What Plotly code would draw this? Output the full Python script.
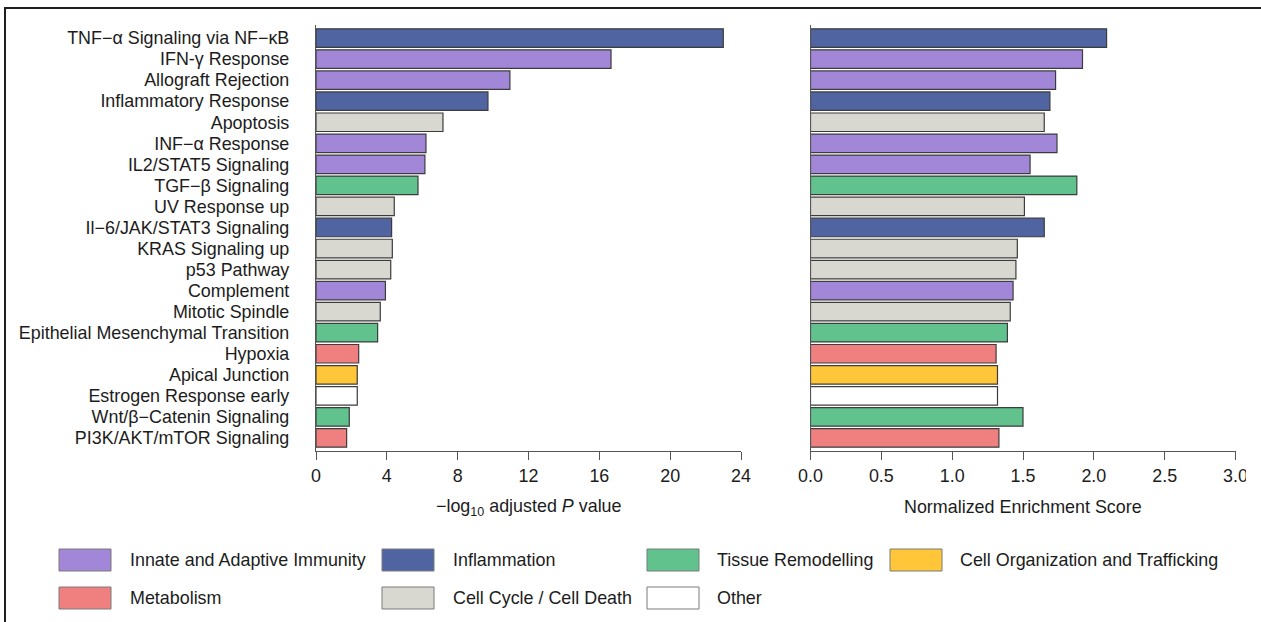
import plotly.graph_objects as go

# ---- data -------------------------------------------------------------
pathways = [
    "TNF−α Signaling via NF−κB",
    "IFN-γ Response",
    "Allograft Rejection",
    "Inflammatory Response",
    "Apoptosis",
    "INF−α Response",
    "IL2/STAT5 Signaling",
    "TGF−β Signaling",
    "UV Response up",
    "Il−6/JAK/STAT3 Signaling",
    "KRAS Signaling up",
    "p53 Pathway",
    "Complement",
    "Mitotic Spindle",
    "Epithelial Mesenchymal Transition",
    "Hypoxia",
    "Apical Junction",
    "Estrogen Response early",
    "Wnt/β−Catenin Signaling",
    "PI3K/AKT/mTOR Signaling",
]

neg_log10_padj = [23.0, 16.66, 10.95, 9.71, 7.17, 6.21, 6.15, 5.76, 4.42, 4.27,
                  4.31, 4.22, 3.92, 3.63, 3.48, 2.41, 2.33, 2.33, 1.88, 1.73]

nes = [2.09, 1.92, 1.73, 1.69, 1.65, 1.74, 1.55, 1.88, 1.51, 1.65,
       1.46, 1.45, 1.43, 1.41, 1.39, 1.31, 1.32, 1.32, 1.50, 1.33]

groups = [
    "Inflammation", "Innate and Adaptive Immunity", "Innate and Adaptive Immunity",
    "Inflammation", "Cell Cycle / Cell Death", "Innate and Adaptive Immunity",
    "Innate and Adaptive Immunity", "Tissue Remodelling", "Cell Cycle / Cell Death",
    "Inflammation", "Cell Cycle / Cell Death", "Cell Cycle / Cell Death",
    "Innate and Adaptive Immunity", "Cell Cycle / Cell Death", "Tissue Remodelling",
    "Metabolism", "Cell Organization and Trafficking", "Other",
    "Tissue Remodelling", "Metabolism",
]

left_ticks = [0, 4, 8, 12, 16, 20, 24]
right_ticks = [0.0, 0.5, 1.0, 1.5, 2.0, 2.5, 3.0]

legend_rows = [
    ["Innate and Adaptive Immunity", "Inflammation", "Tissue Remodelling",
     "Cell Organization and Trafficking"],
    ["Metabolism", "Cell Cycle / Cell Death", "Other"],
]

# ---- styling ----------------------------------------------------------
group_colors = {
    "Innate and Adaptive Immunity": "#A287D8",
    "Inflammation": "#4F64A0",
    "Tissue Remodelling": "#62C28E",
    "Cell Organization and Trafficking": "#FFC63A",
    "Metabolism": "#F08080",
    "Cell Cycle / Cell Death": "#D8D8D0",
    "Other": "#FFFFFF",
}

W, H = 1261, 622
FONT = "Liberation Sans, Arial, sans-serif"
TXT = "#1c1c1c"
AX = "#555555"
FS = 17.9


def px(x):
    return x / W


def py(y):
    return (H - y) / H


bar_colors = [group_colors[g] for g in groups]
n = len(pathways)
y_range = [n - 1 + 0.62, -0.62]

fig = go.Figure()

fig.add_trace(go.Bar(
    x=neg_log10_padj, y=pathways, orientation="h",
    marker=dict(color=bar_colors, line=dict(color="#3c3c3c", width=1.2)),
    xaxis="x", yaxis="y", showlegend=False, hoverinfo="x+y",
))
fig.add_trace(go.Bar(
    x=nes, y=pathways, orientation="h",
    marker=dict(color=bar_colors, line=dict(color="#3c3c3c", width=1.2)),
    xaxis="x2", yaxis="y2", showlegend=False, hoverinfo="x+y",
))

y_dom = [py(451), py(25)]
common_x = dict(
    automargin=False,
    showline=True, linecolor=AX, linewidth=1.2,
    ticks="outside", ticklen=8, tickcolor=AX, tickwidth=1.2,
    showgrid=False, zeroline=False,
    tickfont=dict(family=FONT, size=FS, color=TXT),
)
common_y = dict(
    automargin=False,
    domain=y_dom, type="category", categoryorder="array", categoryarray=pathways,
    range=y_range, showline=True, linecolor=AX, linewidth=1.2,
    ticks="", showgrid=False, zeroline=False,
)

fig.update_layout(
    width=W, height=H,
    margin=dict(l=0, r=0, t=0, b=0, autoexpand=False),
    paper_bgcolor="white", plot_bgcolor="white",
    bargap=0.12,
    font=dict(family=FONT, size=FS, color=TXT),
    xaxis=dict(domain=[px(316), px(741)], range=[0, 24], tickvals=left_ticks,
               anchor="y", **common_x),
    yaxis=dict(anchor="x", tickfont=dict(family=FONT, size=FS, color=TXT),
               ticklabelstandoff=22, **common_y),
    xaxis2=dict(domain=[px(810.5), px(1235.5)], range=[0, 3], tickvals=right_ticks,
                tickformat=".1f", anchor="y2", **common_x),
    yaxis2=dict(anchor="x2", showticklabels=False, **common_y),
)

annotations = [
    dict(text="−log<sub>10</sub> adjusted <i>P</i> value", x=px(528.5), y=py(507),
         xref="paper", yref="paper", showarrow=False, xanchor="center", yanchor="middle",
         font=dict(family=FONT, size=FS, color=TXT)),
    dict(text="Normalized Enrichment Score", x=px(1023), y=py(507),
         xref="paper", yref="paper", showarrow=False, xanchor="center", yanchor="middle",
         font=dict(family=FONT, size=FS, color=TXT)),
]

shapes = []

# legend: swatch + label, laid out on two rows
swatch_x = [59, 382, 647, 890]
label_x = [128, 451, 715, 958]
row_y = [560, 598]
for r, row in enumerate(legend_rows):
    cy = row_y[r]
    for c, name in enumerate(row):
        shapes.append(dict(
            type="rect", xref="paper", yref="paper",
            x0=px(swatch_x[c]), x1=px(swatch_x[c] + 52),
            y0=py(cy + 11), y1=py(cy - 11),
            fillcolor=group_colors[name], line=dict(color="#7a7a7a", width=1),
        ))
        annotations.append(dict(
            text=name, x=px(label_x[c]), y=py(cy), xref="paper", yref="paper",
            showarrow=False, xanchor="left", yanchor="middle",
            font=dict(family=FONT, size=FS, color=TXT),
        ))

# frame along the top and left edges
shapes.append(dict(
    type="path", xref="paper", yref="paper",
    path=f"M {px(5)},{py(H + 5)} L {px(5)},{py(8)} L {px(W + 5)},{py(8)}",
    line=dict(color="#1e1e1e", width=2),
))

# right edge strip
shapes.append(dict(
    type="rect", xref="paper", yref="paper", layer="above",
    x0=px(1246), x1=px(W + 2), y0=py(490), y1=py(458),
    fillcolor="white", line=dict(width=0),
))

fig.update_layout(annotations=annotations, shapes=shapes)

fig.write_html("out.html")
